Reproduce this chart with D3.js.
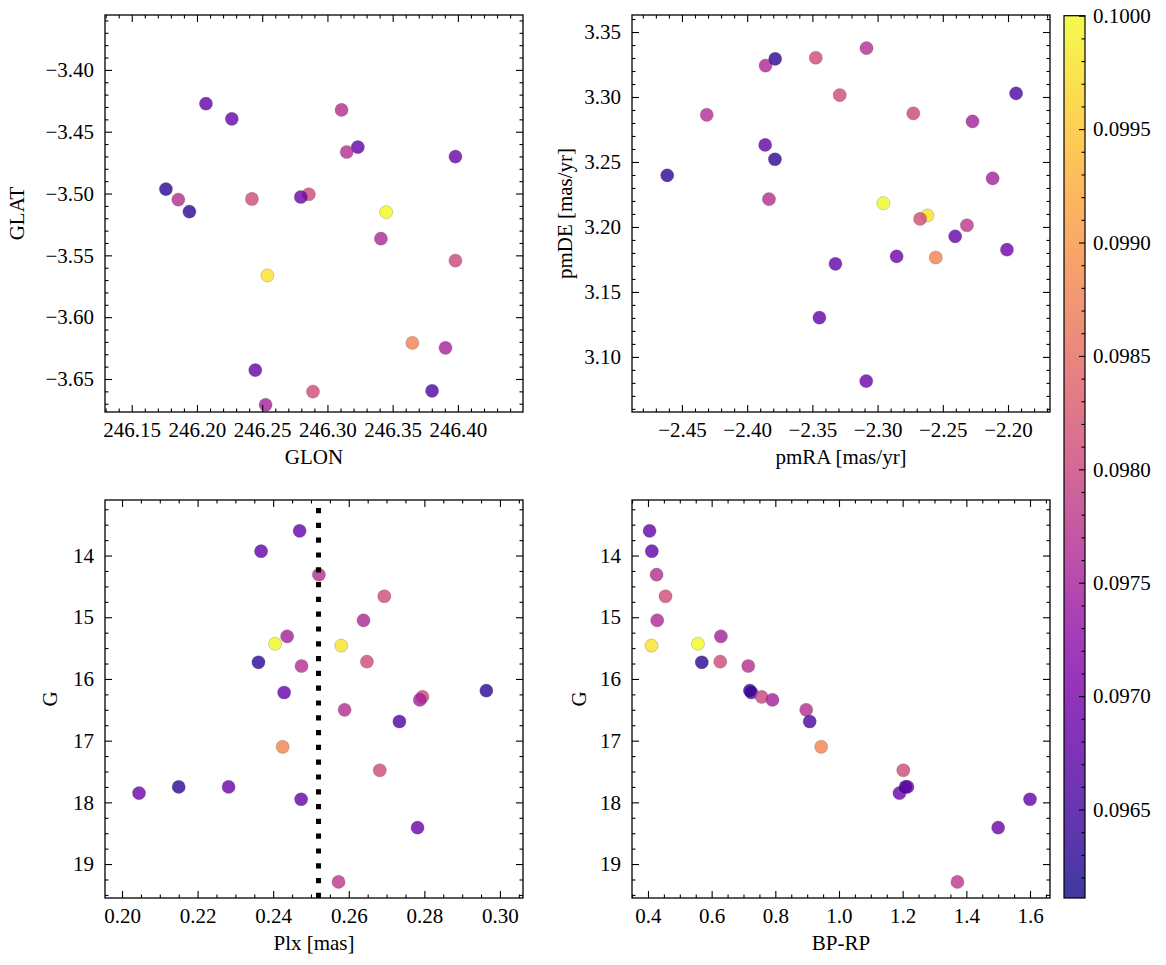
<!DOCTYPE html>
<html>
<head>
<meta charset="utf-8">
<script src="https://cdn.jsdelivr.net/npm/d3@7"></script>
<style>
  html, body { margin: 0; padding: 0; background: #fff; }
</style>
</head>
<body>
<div id="chart"></div>
<script>
// ---------------- data (one entry per star) ----------------
const starG    = [13.60, 13.93, 14.31, 14.66, 15.05, 15.31, 15.43, 15.46, 15.73, 15.72, 15.79, 16.22, 16.19, 16.29, 16.34, 16.50, 16.69, 17.10, 17.48, 17.85, 17.75, 17.75, 17.95, 18.41, 19.29];
const starPlx  = [0.2470, 0.2368, 0.2521, 0.2694, 0.2639, 0.2437, 0.2405, 0.2580, 0.2361, 0.2648, 0.2475, 0.2429, 0.2964, 0.2795, 0.2788, 0.2589, 0.2734, 0.2425, 0.2682, 0.2045, 0.2150, 0.2282, 0.2474, 0.2782, 0.2573];
const starBPRP = [0.405, 0.412, 0.427, 0.455, 0.429, 0.629, 0.557, 0.411, 0.569, 0.627, 0.715, 0.725, 0.720, 0.757, 0.791, 0.897, 0.908, 0.944, 1.202, 1.190, 1.209, 1.215, 1.600, 1.500, 1.372];
const starGLON = [246.2069, 246.2267, 246.1857, 246.2421, 246.3410, 246.3905, 246.3450, 246.2540, 246.1762, 246.2857, 246.3108, 246.3233, 246.1942, 246.3981, 246.2526, 246.3148, 246.3802, 246.3651, 246.2889, 246.3981, null, 246.2796, 246.2447, null, null];
const starGLAT = [-3.4273, -3.4396, -3.5049, -3.5044, -3.5365, -3.6248, -3.5151, -3.5662, -3.4964, -3.5006, -3.4324, -3.4624, -3.5146, -3.5542, -3.6709, -3.4664, -3.6596, -3.6208, -3.6602, -3.4701, null, -3.5028, -3.6428, null, null];
const starPMRA = [-2.3862, -2.3323, -2.3833, -2.3474, -2.3859, -2.2118, -2.2956, -2.2618, -2.4613, -2.3290, -2.4310, -2.3446, -2.3785, -2.2726, -2.2272, -2.3085, -2.1938, -2.2554, -2.2674, -2.3087, -2.3787, -2.2854, -2.2405, -2.2008, -2.2315];
const starPMDE = [3.2631, 3.1716, 3.2214, 3.3302, 3.3242, 3.2374, 3.2183, 3.2088, 3.2397, 3.3015, 3.2863, 3.1302, 3.3294, 3.2874, 3.2812, 3.3376, 3.3028, 3.1765, 3.2062, 3.0814, 3.2521, 3.1773, 3.1928, 3.1825, 3.2013];
const starColor = [0.0968, 0.0968, 0.0977, 0.0981, 0.0976, 0.0975, 0.1000, 0.0998, 0.0963, 0.0981, 0.0977, 0.0968, 0.0963, 0.0980, 0.0975, 0.0977, 0.0966, 0.0988, 0.0981, 0.0969, 0.0963, 0.0969, 0.0968, 0.0969, 0.0978];

const plxLine = 0.252;

// tick labels
const ticksGLON = [246.15, 246.20, 246.25, 246.30, 246.35, 246.40];
const ticksGLAT = [-3.40, -3.45, -3.50, -3.55, -3.60, -3.65];
const ticksPMRA = [-2.45, -2.40, -2.35, -2.30, -2.25, -2.20];
const ticksPMDE = [3.10, 3.15, 3.20, 3.25, 3.30, 3.35];
const ticksPlx  = [0.20, 0.22, 0.24, 0.26, 0.28, 0.30];
const ticksBPRP = [0.4, 0.6, 0.8, 1.0, 1.2, 1.4, 1.6];
const ticksG    = [14, 15, 16, 17, 18, 19];
const ticksCbar = [0.0965, 0.0970, 0.0975, 0.0980, 0.0985, 0.0990, 0.0995, 0.1000];

const colorDomain = [0.09611, 0.1000];

// ---------------- layout ----------------
const W = 1166, H = 965;
const FS = 21;
const FONT = "'Liberation Serif', 'DejaVu Serif', serif";
const svg = d3.select("#chart").append("svg").attr("width", W).attr("height", H)
  .style("font-family", FONT);
const color = d3.scaleSequential(d3.interpolatePlasma).domain(colorDomain);
const minus = s => s.replace("-", "\u2212");

const panels = [
  { key: "tl", xs: starGLON, ys: starGLAT, xdom: [246.1295, 246.4499], ydom: [-3.6767, -3.3556],
    left: 105, top: 15, w: 418, h: 397, xt: ticksGLON, yt: ticksGLAT, xminor: 0.01, yminor: 0.01,
    xf: ".2f", yf: ".2f", xlabel: "GLON", ylabel: "GLAT", ylOff: 81 },
  { key: "tr", xs: starPMRA, ys: starPMDE, xdom: [-2.4883, -2.1678], ydom: [3.0576, 3.3631],
    left: 632, top: 15, w: 418, h: 397, xt: ticksPMRA, yt: ticksPMDE, xminor: 0.01, yminor: 0.01,
    xf: ".2f", yf: ".2f", xlabel: "pmRA [mas/yr]", ylabel: "pmDE [mas/yr]", ylOff: 60 },
  { key: "bl", xs: starPlx, ys: starG, xdom: [0.1955, 0.3061], ydom: [19.55, 13.10],
    left: 105, top: 500, w: 418, h: 398, xt: ticksPlx, yt: ticksG, xminor: 0.005, yminor: 0.25,
    xf: ".2f", yf: "d", xlabel: "Plx [mas]", ylabel: "G", ylOff: 48, vline: plxLine },
  { key: "br", xs: starBPRP, ys: starG, xdom: [0.3498, 1.6628], ydom: [19.55, 13.10],
    left: 632, top: 500, w: 418, h: 398, xt: ticksBPRP, yt: ticksG, xminor: 0.05, yminor: 0.25,
    xf: ".1f", yf: "d", xlabel: "BP-RP", ylabel: "G", ylOff: 46 }
];

function minorTicks(dom, step, majors) {
  const lo = Math.min(dom[0], dom[1]), hi = Math.max(dom[0], dom[1]);
  const out = [];
  const start = Math.ceil(lo / step - 1e-9);
  for (let k = start; k * step <= hi + 1e-12; k++) {
    const v = k * step;
    if (!majors.some(m => Math.abs(m - v) < step * 1e-3)) out.push(v);
  }
  return out;
}

function styleAxis(a) {
  a.attr("font-family", null).attr("font-size", null);
  a.select(".domain").remove();
  a.selectAll(".tick line").attr("stroke", "#000").attr("stroke-width", 1.1);
  a.selectAll("text").style("font-family", FONT).style("font-size", FS + "px").attr("fill", "#000");
}

const MAJ = 7, MIN = 3.5;

panels.forEach(p => {
  const x = d3.scaleLinear().domain(p.xdom).range([p.left, p.left + p.w]);
  const y = d3.scaleLinear().domain(p.ydom).range([p.top + p.h, p.top]);
  const g = svg.append("g");

  g.append("clipPath").attr("id", "clip-" + p.key)
    .append("rect").attr("x", p.left).attr("y", p.top).attr("width", p.w).attr("height", p.h);

  const idx = d3.range(starG.length).filter(i => p.xs[i] != null && p.ys[i] != null);

  g.append("g").attr("clip-path", `url(#clip-${p.key})`)
    .selectAll("circle").data(idx).join("circle")
    .attr("cx", i => x(p.xs[i]))
    .attr("cy", i => y(p.ys[i]))
    .attr("r", 6.6)
    .attr("fill", i => color(starColor[i]))
    .attr("fill-opacity", 0.8)
    .attr("stroke", "#444")
    .attr("stroke-opacity", 0.45)
    .attr("stroke-width", 0.5);

  if (p.vline != null) {
    g.append("line")
      .attr("clip-path", `url(#clip-${p.key})`)
      .attr("x1", x(p.vline)).attr("x2", x(p.vline))
      .attr("y1", p.top + p.h).attr("y2", p.top)
      .attr("stroke", "#000").attr("stroke-width", 5)
      .attr("stroke-dasharray", "5.2,9.6");
  }

  const xMinor = minorTicks(p.xdom, p.xminor, p.xt);
  const yMinor = minorTicks(p.ydom, p.yminor, p.yt);
  const fx = d => minus(d3.format(p.xf)(d));
  const fy = d => minus(d3.format(p.yf)(d));

  const axes = [
    g.append("g").attr("transform", `translate(0,${p.top + p.h})`)
      .call(d3.axisBottom(x).tickValues(p.xt).tickSize(-MAJ).tickPadding(10).tickFormat(fx)),
    g.append("g").attr("transform", `translate(${p.left},0)`)
      .call(d3.axisLeft(y).tickValues(p.yt).tickSize(-MAJ).tickPadding(11).tickFormat(fy)),
    g.append("g").attr("transform", `translate(0,${p.top})`)
      .call(d3.axisTop(x).tickValues(p.xt).tickSize(-MAJ).tickFormat("")),
    g.append("g").attr("transform", `translate(${p.left + p.w},0)`)
      .call(d3.axisRight(y).tickValues(p.yt).tickSize(-MAJ).tickFormat("")),
    g.append("g").attr("transform", `translate(0,${p.top + p.h})`)
      .call(d3.axisBottom(x).tickValues(xMinor).tickSize(-MIN).tickFormat("")),
    g.append("g").attr("transform", `translate(0,${p.top})`)
      .call(d3.axisTop(x).tickValues(xMinor).tickSize(-MIN).tickFormat("")),
    g.append("g").attr("transform", `translate(${p.left},0)`)
      .call(d3.axisLeft(y).tickValues(yMinor).tickSize(-MIN).tickFormat("")),
    g.append("g").attr("transform", `translate(${p.left + p.w},0)`)
      .call(d3.axisRight(y).tickValues(yMinor).tickSize(-MIN).tickFormat(""))
  ];
  axes.forEach(styleAxis);

  g.append("rect").attr("x", p.left).attr("y", p.top).attr("width", p.w).attr("height", p.h)
    .attr("fill", "none").attr("stroke", "#000").attr("stroke-width", 1.3);

  g.append("text").attr("x", p.left + p.w / 2).attr("y", p.top + p.h + 52)
    .attr("text-anchor", "middle").style("font-family", FONT).style("font-size", FS + "px").text(p.xlabel);
  g.append("text")
    .attr("transform", `translate(${p.left - p.ylOff},${p.top + p.h / 2}) rotate(-90)`)
    .attr("text-anchor", "middle").style("font-family", FONT).style("font-size", FS + "px").text(p.ylabel);
});

// ---------------- colorbar ----------------
const cb = { left: 1064, top: 15.7, w: 21, h: 882.3 };
const cy = d3.scaleLinear().domain(colorDomain).range([cb.top + cb.h, cb.top]);
const defs = svg.append("defs");
const grad = defs.append("linearGradient").attr("id", "cbgrad")
  .attr("x1", 0).attr("y1", 1).attr("x2", 0).attr("y2", 0);
d3.range(0, 1.0001, 0.05).forEach(t => {
  grad.append("stop").attr("offset", t).attr("stop-color", d3.interpolatePlasma(t));
});
svg.append("rect").attr("x", cb.left).attr("y", cb.top).attr("width", cb.w).attr("height", cb.h)
  .attr("fill", "url(#cbgrad)").attr("fill-opacity", 0.8);
const cbMinor = minorTicks(colorDomain, 0.0001, ticksCbar);
const cbAx = svg.append("g").attr("transform", `translate(${cb.left + cb.w},0)`)
  .call(d3.axisRight(cy).tickValues(ticksCbar).tickSize(-6).tickPadding(8).tickFormat(d3.format(".4f")));
const cbMin = svg.append("g").attr("transform", `translate(${cb.left + cb.w},0)`)
  .call(d3.axisRight(cy).tickValues(cbMinor).tickSize(-3.5).tickFormat(""));
[cbAx, cbMin].forEach(styleAxis);
svg.append("rect").attr("x", cb.left).attr("y", cb.top).attr("width", cb.w).attr("height", cb.h)
  .attr("fill", "none").attr("stroke", "#000").attr("stroke-width", 1.2);
</script>
</body>
</html>
